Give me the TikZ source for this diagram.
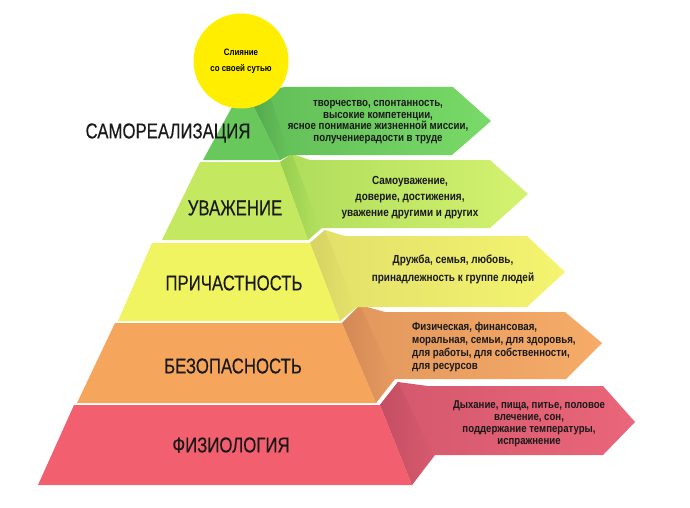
\documentclass[tikz,border=0pt]{standalone}
\usepackage{fontspec}
\setmainfont{Liberation Sans}
\newfontfamily\tierfont[FakeStretch=0.78,FakeBold=0.3]{Liberation Sans}
\newfontfamily\notefont[FakeStretch=0.85]{Liberation Sans}
\definecolor{sunYellow}{RGB}{255,238,0}
\definecolor{selfFront}{RGB}{104,200,92}
\definecolor{selfArrow}{RGB}{120,218,104}
\definecolor{selfSide}{RGB}{84,170,76}
\definecolor{esteemFront}{RGB}{196,232,96}
\definecolor{esteemArrow}{RGB}{212,242,112}
\definecolor{esteemSide}{RGB}{150,206,78}
\definecolor{belongFront}{RGB}{240,244,96}
\definecolor{belongArrow}{RGB}{244,244,112}
\definecolor{belongSide}{RGB}{214,210,100}
\definecolor{safetyFront}{RGB}{246,166,92}
\definecolor{safetyArrow}{RGB}{246,172,104}
\definecolor{safetySide}{RGB}{212,136,86}
\definecolor{physFront}{RGB}{242,96,112}
\definecolor{physArrow}{RGB}{234,102,122}
\definecolor{physSide}{RGB}{196,78,98}

\begin{document}
\begin{tikzpicture}[x=1pt,y=-1pt,
tier/.style={font=\tierfont\fontsize{21.5}{24}\selectfont, text=black!90, inner sep=0pt},
note/.style={font=\notefont\bfseries\fontsize{11.4}{11.7}\selectfont, text=black!90, align=center, inner sep=0pt},
]
\useasboundingbox (0,0) rectangle (690,508);

% physiology
\shade[left color=physSide!60!physArrow, middle color=physArrow, right color=physArrow]
(380,405) -- (398,382) -- (428,386) -- (603,386) -- (635,422) -- (603,455) -- (435,455) -- (412,485) -- cycle;
\shade[left color=physSide, right color=physSide!50!physArrow]
(380,405) -- (398,382) -- (433,455) -- (412,485) -- cycle;
\fill[physFront] (74,405) -- (380,405) -- (412,485) -- (38,485) -- cycle;

% safety
\shade[left color=safetySide!60!safetyArrow, middle color=safetyArrow, right color=safetyArrow]
(342,323) -- (360,305) -- (385,312) -- (565,312) -- (602,343) -- (566,379) -- (395,379) -- (376,403) -- cycle;
\shade[left color=safetySide, right color=safetySide!50!safetyArrow]
(342,323) -- (360,305) -- (393,379) -- (376,403) -- cycle;
\fill[safetyFront] (115,323) -- (342,323) -- (376,403) -- (77,403) -- cycle;

% belonging
\shade[left color=belongSide!60!belongArrow, middle color=belongArrow, right color=belongArrow]
(310,243) -- (325,230) -- (345,236) -- (527,236) -- (565,272) -- (527,307) -- (357,307) -- (340,321) -- cycle;
\shade[left color=belongSide, right color=belongSide!50!belongArrow]
(310,243) -- (325,230) -- (355,307) -- (340,321) -- cycle;
\fill[belongFront] (152,243) -- (310,243) -- (340,321) -- (118,321) -- cycle;

% esteem
\shade[left color=esteemSide!60!esteemArrow, middle color=esteemArrow, right color=esteemArrow]
(280,162) -- (292,154) -- (310,160) -- (490,160) -- (528,194) -- (490,228) -- (322,228) -- (308,240) -- cycle;
\shade[left color=esteemSide, right color=esteemSide!50!esteemArrow]
(280,162) -- (292,154) -- (320,228) -- (308,240) -- cycle;
\fill[esteemFront] (200,162) -- (280,162) -- (308,240) -- (162,240) -- cycle;

% self-actualization
\shade[left color=selfSide!60!selfArrow, middle color=selfArrow, right color=selfArrow]
(254,107) -- (268,90) -- (285,87) -- (453,87) -- (491,121) -- (452,155) -- (290,155) -- (280,160) -- cycle;
\shade[left color=selfSide, right color=selfSide!50!selfArrow]
(254,107) -- (268,90) -- (289,155) -- (280,160) -- cycle;
\fill[selfFront] (232,107) -- (254,107) -- (280,160) -- (203,160) -- cycle;

\node[circle, fill=sunYellow, minimum size=95pt, inner sep=0pt,
font=\notefont\bfseries\fontsize{9.3}{16}\selectfont, align=center] (essence) at (241,61) {Слияние\\со своей сутью};

\node[tier] (selfact) at (168,133) {САМОРЕАЛИЗАЦИЯ};
\node[tier] (esteem) at (235,208) {УВАЖЕНИЕ};
\node[tier] (belong) at (234,283) {ПРИЧАСТНОСТЬ};
\node[tier] (safety) at (233,366) {БЕЗОПАСНОСТЬ};
\node[tier] (physio) at (231,445) {ФИЗИОЛОГИЯ};

\node[note] (selfnote) at (378,122) {творчество, спонтанность,\\высокие компетенции,\\ясное понимание жизненной миссии,\\получениерадости в труде};
\node[note, font=\notefont\bfseries\fontsize{11.7}{16}\selectfont] (esteemnote) at (410,198) {Самоуважение,\\доверие, достижения,\\уважение другими и других};
\node[note, font=\notefont\bfseries\fontsize{11.7}{18}\selectfont] (belongnote) at (453,269) {Дружба, семья, любовь,\\принадлежность к группе людей};
\node[note, align=left, anchor=west, font=\notefont\bfseries\fontsize{11.4}{12.7}\selectfont] (safetynote) at (412,347) {Физическая, финансовая,\\моральная, семьи, для здоровья,\\для работы, для собственности,\\для ресурсов};
\node[note, font=\notefont\bfseries\fontsize{11.3}{12}\selectfont] (physnote) at (529,424) {Дыхание, пища, питье, половое\\влечение, сон,\\поддержание температуры,\\испражнение};
\end{tikzpicture}
\end{document}
